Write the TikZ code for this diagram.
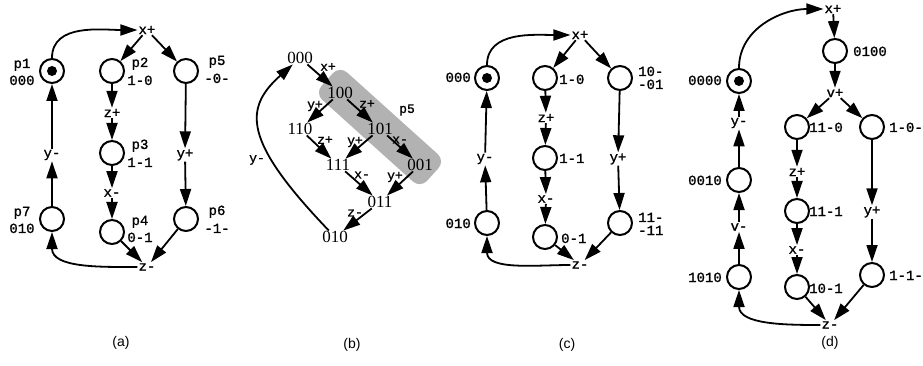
\documentclass[tikz,border=0pt]{standalone}
\usepackage{fontspec}
\newfontfamily\monof[FakeBold=1.2]{Liberation Mono}
\newfontfamily\seriff{Liberation Serif}
\newfontfamily\sansf{Liberation Sans}
\usetikzlibrary{arrows.meta}

\begin{document}
\begin{tikzpicture}[x=1pt,y=-1pt,
  pl/.style={draw, circle, line width=2pt, minimum size=24pt, inner sep=0pt},
  marked/.style={pl, path picture={\fill (path picture bounding box.center) circle (5pt);}},
  trans/.style={font=\monof\fontsize{14}{14}\selectfont, inner sep=1pt},
  tag/.style={font=\monof\fontsize{14}{14}\selectfont, inner sep=0pt, anchor=base},
  tagw/.style={tag, anchor=base west},
  tage/.style={tag, anchor=base east},
  bstate/.style={font=\seriff\fontsize{17}{17}\selectfont, inner sep=0.5pt},
  slbl/.style={font=\monof\fontsize{13}{13}\selectfont, inner sep=0pt},
  flow/.style={line width=1.8pt, -{Triangle[length=17pt,width=11pt]}},
  captxt/.style={font=\sansf\fontsize{14}{14}\selectfont}
]
\useasboundingbox (0,0) rectangle (923,366);

% ---------- (a) Petri net with place names ----------
\node[marked] (p1) at (52,71) {};
\node[pl] (p2) at (112,71) {};
\node[pl] (p5) at (186,71) {};
\node[pl] (p3) at (112,153) {};
\node[pl] (p4) at (112,232) {};
\node[pl] (p6) at (186,219) {};
\node[pl] (p7) at (52,219) {};
\node[trans] (ax1) at (147,30) {x+};
\node[trans] (az1) at (112,113) {z+};
\node[trans] (ax2) at (112,193) {x-};
\node[trans] (ay1) at (185,155) {y+};
\node[trans] (ay2) at (52,155) {y-};
\node[trans] (az2) at (147,267) {z-};
\node[tag] (p1n) at (22,68) {p1};  \node[tag] (p1c) at (22,85) {000};
\node[tag] (p2n) at (140,67) {p2}; \node[tag] (p2c) at (140,85) {1-0};
\node[tag] (p5n) at (217,65) {p5}; \node[tag] (p5c) at (217,83) {-0-};
\node[tag] (p3n) at (140,149) {p3}; \node[tag] (p3c) at (140,167) {1-1};
\node[tag] (p4n) at (140,225) {p4}; \node[tag] (p4c) at (140,242) {0-1};
\node[tag] (p6n) at (217,215) {p6}; \node[tag] (p6c) at (217,233) {-1-};
\node[tag] (p7n) at (22,216) {p7}; \node[tag] (p7c) at (22,233) {010};
\draw[flow] (p1) to[out=90,in=180] (ax1);
\draw[flow] (ax1) -- (p2);
\draw[flow] (ax1) -- (p5);
\draw[flow] (p2) -- (az1);
\draw[flow] (az1) -- (p3);
\draw[flow] (p3) -- (ax2);
\draw[flow] (ax2) -- (p4);
\draw[flow] (p4) -- (az2);
\draw[flow] (p5) -- (ay1);
\draw[flow] (ay1) -- (p6);
\draw[flow] (p6) -- (az2);
\draw[flow] (az2) to[out=180,in=-90] (p7);
\draw[flow] (p7) -- (ay2);
\draw[flow] (ay2) -- (p1);

% ---------- (b) state graph ----------
\node[fill=gray!60, rounded corners=10pt, minimum width=142pt, minimum height=37pt, rotate=-42] (band) at (380,127) {};
\node[bstate] (b000) at (300,58) {000};
\node[bstate] (b100) at (340,93) {100};
\node[bstate] (b110) at (300,129) {110};
\node[bstate] (b101) at (380,129) {101};
\node[bstate] (b111) at (338,165) {111};
\node[bstate] (b001) at (420,165) {001};
\node[bstate] (b011) at (380,202) {011};
\node[bstate] (b010) at (335,237) {010};
\node[slbl] (bx1) at (328,67) {x+};
\node[slbl] (by1) at (315,106) {y+};
\node[slbl] (bz1) at (367,104) {z+};
\node[slbl] (bp5) at (407,110) {p5};
\node[slbl] (bz2) at (325,140) {z+};
\node[slbl] (by2) at (355,142) {y+};
\node[slbl] (bx2) at (400,140) {x-};
\node[slbl] (bx3) at (362,175) {x-};
\node[slbl] (by3) at (395,177) {y+};
\node[slbl] (bz3) at (355,213) {z-};
\node[slbl] (by4) at (257,160) {y-};
\draw[flow] (b000) -- (b100);
\draw[flow] (b100) -- (b110);
\draw[flow] (b100) -- (b101);
\draw[flow] (b110) -- (b111);
\draw[flow] (b101) -- (b111);
\draw[flow] (b101) -- (b001);
\draw[flow] (b111) -- (b011);
\draw[flow] (b001) -- (b011);
\draw[flow] (b011) -- (b010);
\draw[flow] (b010) .. controls (242,140) and (244,108) .. (b000);

% ---------- (c) net with state codes ----------
\node[marked] (c1) at (487,78) {};
\node[pl] (c2) at (545,78) {};
\node[pl] (c3) at (620,78) {};
\node[pl] (c4) at (545,158) {};
\node[pl] (c5) at (545,237) {};
\node[pl] (c6) at (620,223) {};
\node[pl] (c7) at (487,223) {};
\node[trans] (cx1) at (580,35) {x+};
\node[trans] (cz1) at (546,118) {z+};
\node[trans] (cx2) at (546,199) {x-};
\node[trans] (cy1) at (618,159) {y+};
\node[trans] (cy2) at (485,159) {y-};
\node[trans] (cz2) at (580,265) {z-};
\node[tagw] (c2c) at (559,84) {1-0};
\node[tagw] (c4c) at (559,163) {1-1};
\node[tagw] (c5c) at (561,243) {0-1};
\node[tagw] (c3a) at (638,76) {10-};
\node[tagw] (c3b) at (638,89) {-01};
\node[tagw] (c6a) at (638,222) {11-};
\node[tagw] (c6b) at (638,235) {-11};
\node[tage] (c1c) at (471,82) {000};
\node[tage] (c7c) at (471,228) {010};
\draw[flow] (c1) to[out=90,in=180] (cx1);
\draw[flow] (cx1) -- (c2);
\draw[flow] (cx1) -- (c3);
\draw[flow] (c2) -- (cz1);
\draw[flow] (cz1) -- (c4);
\draw[flow] (c4) -- (cx2);
\draw[flow] (cx2) -- (c5);
\draw[flow] (c5) -- (cz2);
\draw[flow] (c3) -- (cy1);
\draw[flow] (cy1) -- (c6);
\draw[flow] (c6) -- (cz2);
\draw[flow] (cz2) to[out=180,in=-90] (c7);
\draw[flow] (c7) -- (cy2);
\draw[flow] (cy2) -- (c1);

% ---------- (d) net with the extra signal v ----------
\node[marked] (d1) at (739,81) {};
\node[pl] (d2) at (835,51) {};
\node[pl] (d3) at (797,127) {};
\node[pl] (d4) at (872,127) {};
\node[pl] (d5) at (797,211) {};
\node[pl] (d6) at (797,287) {};
\node[pl] (d7) at (872,275) {};
\node[pl] (d8) at (739,277) {};
\node[pl] (d9) at (739,180) {};
\node[trans] (dx1) at (833,9) {x+};
\node[trans] (dv1) at (835,93) {v+};
\node[trans] (dz1) at (797,172) {z+};
\node[trans] (dx2) at (797,250) {x-};
\node[trans] (dy1) at (872,212) {y+};
\node[trans] (dz2) at (830,325) {z-};
\node[trans] (dv2) at (739,227) {v-};
\node[trans] (dy2) at (739,123) {y-};
\node[tagw] (d2c) at (853,56) {0100};
\node[tagw] (d3c) at (809,132) {11-0};
\node[tagw] (d4c) at (889,132) {1-0-};
\node[tagw] (d5c) at (809,216) {11-1};
\node[tagw] (d6c) at (809,293) {10-1};
\node[tagw] (d7c) at (889,280) {1-1-};
\node[tage] (d1c) at (722,85) {0000};
\node[tage] (d9c) at (722,185) {0010};
\node[tage] (d8c) at (722,282) {1010};
\draw[flow] (d1) to[out=90,in=180] (dx1);
\draw[flow] (dx1) -- (d2);
\draw[flow] (d2) -- (dv1);
\draw[flow] (dv1) -- (d3);
\draw[flow] (dv1) -- (d4);
\draw[flow] (d3) -- (dz1);
\draw[flow] (dz1) -- (d5);
\draw[flow] (d5) -- (dx2);
\draw[flow] (dx2) -- (d6);
\draw[flow] (d6) -- (dz2);
\draw[flow] (d4) -- (dy1);
\draw[flow] (dy1) -- (d7);
\draw[flow] (d7) -- (dz2);
\draw[flow] (dz2) to[out=180,in=-90] (d8);
\draw[flow] (d8) -- (dv2);
\draw[flow] (dv2) -- (d9);
\draw[flow] (d9) -- (dy2);
\draw[flow] (dy2) -- (d1);

% ---------- captions ----------
\node[captxt] (capa) at (121,343) {(a)};
\node[captxt] (capb) at (352,345) {(b)};
\node[captxt] (capc) at (567,345) {(c)};
\node[captxt] (capd) at (830,343) {(d)};
\end{tikzpicture}
\end{document}
